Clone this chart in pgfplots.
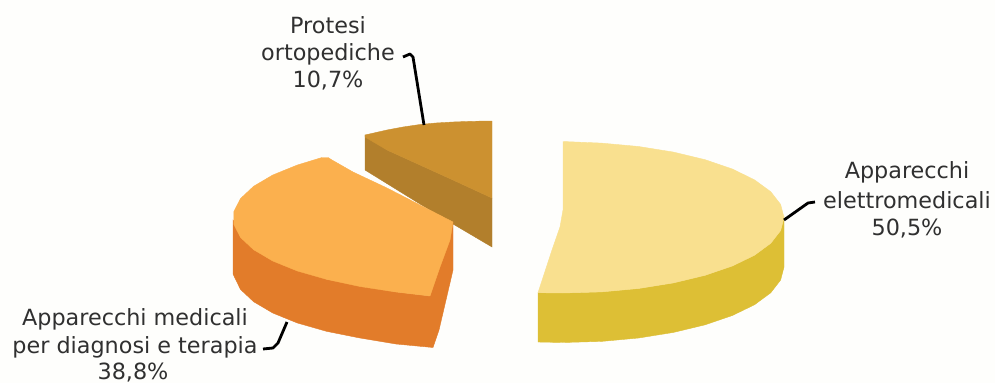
\documentclass[border=0pt]{standalone}
\usepackage{fontspec}
\usepackage{pgfplots}
\pgfplotsset{compat=1.18}
\setmainfont{DejaVu Sans}
\definecolor{pagebg}{HTML}{FEFEFC}
\definecolor{yellowtop}{HTML}{F9E08F}
\definecolor{yellowside}{HTML}{DDBF35}
\definecolor{orangetop}{HTML}{FBB04E}
\definecolor{orangeside}{HTML}{E27C2A}
\definecolor{browntop}{HTML}{CC9130}
\definecolor{brownside}{HTML}{B27F2C}
\definecolor{labeltext}{HTML}{303030}
\tikzset{lab/.style={font=\fontsize{22.3}{27}\selectfont, text=labeltext, anchor=base, inner sep=0pt}}
\begin{document}
\begin{tikzpicture}
\begin{axis}[
  scale only axis, width=995pt, height=383pt,
  xmin=0, xmax=995, ymin=0, ymax=383, y dir=reverse,
  ticks=none, axis line style={draw=none},
  axis background/.style={fill=pagebg},
  clip=false,
  every axis plot/.append style={no markers, line width=0.4pt},
]
% Protesi ortopediche, 10.7%
\addplot[fill=brownside, draw=brownside] coordinates {
 (365,135) (365,170) (420,204) (453,224) (492,247) (492,198) (453,180) (420,165) (387,150)
} --cycle;
\addplot[fill=browntop, draw=browntop] coordinates {
 (365,135) (387,130) (403,127) (420,124.5) (436,123) (453,122) (472,121.3) (492,121)
 (492,198) (453,180) (420,165) (387,150) (365,137)
} --cycle;
% Apparecchi medicali per diagnosi e terapia, 38.8%
\addplot[fill=orangeside, draw=orangeside] coordinates {
 (233,220) (233,274) (240.5,289.4) (253.6,301.7) (272.8,313) (297.4,323) (326.8,331.4) (360,338)
 (396,344) (433,347.5) (439,330) (453,270) (453,222) (430,296) (396,292) (326.8,279.4) (253.6,249.7)
} --cycle;
\addplot[fill=orangetop, draw=orangetop] coordinates {
 (322,157.5) (328,157.5) (332,160) (353,172) (387,188) (420,205) (453,222) (450,240) (440,267) (430,296)
 (396,292) (360,286.5) (326.8,279.4) (297.4,271) (272.8,261) (253.6,249.7) (240.5,237.4) (233.9,224.5)
 (233.9,211.5) (240.5,198.6) (253.6,186.3) (272.8,175) (297.4,165)
} --cycle;
% Apparecchi elettromedicali, 50.5%
\addplot[fill=yellowside, draw=yellowside] coordinates {
 (538,292.7) (538,342) (563,342.5) (601.4,341.4) (638.6,338) (673.5,332.4) (705.1,324.8) (732.3,315.5)
 (754.4,304.8) (770.7,292.8) (780.6,280) (784,267) (784,217.5) (780.6,230.6) (770.7,243.3) (754.4,255.3)
 (732.3,266) (705.1,275.3) (673.5,282.9) (638.6,288.5) (601.4,291.9) (563,293)
} --cycle;
\addplot[fill=yellowtop, draw=yellowtop] coordinates {
 (563,141.5) (601.4,143.1) (638.6,146.5) (673.5,152.1) (705.1,159.7) (732.3,169) (754.4,179.8)
 (770.7,191.7) (780.6,204.4) (784,217.5) (780.6,230.6) (770.7,243.3) (754.4,255.3) (732.3,266)
 (705.1,275.3) (673.5,282.9) (638.6,288.5) (601.4,291.9) (563,293) (538,292.7)
 (552,250) (560,227) (563,210)
} --cycle;
% Leader lines
\addplot[black, line width=2.8pt, line join=round] coordinates {(403,57) (410,54) (413,57) (424,125)};
\addplot[black, line width=2.8pt, line join=round] coordinates {(784,220) (808,203) (815,202)};
\addplot[black, line width=2.8pt, line join=round] coordinates {(263,349) (273,348) (278,343) (287,322)};
% Slice labels
\node[lab] at (axis cs:328,33) {Protesi};
\node[lab] at (axis cs:328,60) {ortopediche};
\node[lab] at (axis cs:328,87) {10,7\%};
\node[lab] at (axis cs:907,178) {Apparecchi};
\node[lab] at (axis cs:907,208) {elettromedicali};
\node[lab] at (axis cs:907,235) {50,5\%};
\node[lab] at (axis cs:135,325) {Apparecchi medicali};
\node[lab] at (axis cs:135,353) {per diagnosi e terapia};
\node[lab] at (axis cs:133,379) {38,8\%};
\end{axis}
\end{tikzpicture}
\end{document}
